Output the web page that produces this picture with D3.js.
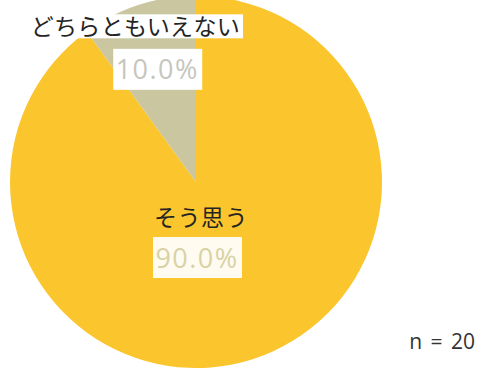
<!DOCTYPE html>
<html>
<head>
<meta charset="utf-8">
<script src="https://cdn.jsdelivr.net/npm/d3@7/dist/d3.min.js"></script>
<style>
  html, body { margin: 0; padding: 0; background: #ffffff; }
  svg { display: block; }
</style>
</head>
<body>
<svg id="chart" width="482" height="373"></svg>
<script>
// Survey answers (n = 20)
const categories = ["そう思う", "どちらともいえない"];
const shares = [90.0, 10.0];
const sampleNote = "n = 20";

const colors = ["#fbc52e", "#c9c6a0"];
const pctColors = ["#d8d2a6", "#c6c6be"];

const W = 482, H = 373;
const cx = 196, cy = 182, R = 186;

const svg = d3.select("#chart");
const g = svg.append("g").attr("transform", `translate(${cx},${cy})`);

const pie = d3.pie().sort(null).value(d => d.v);
const data = categories.map((c, i) => ({ c, v: shares[i], i }));
const arcs = pie(data);

const arc = d3.arc().innerRadius(0).outerRadius(R);

g.selectAll("path.slice")
  .data(arcs)
  .join("path")
  .attr("class", "slice")
  .attr("d", arc)
  .attr("fill", d => colors[d.data.i]);

// Label anchor points: the small slice is labelled along its centroid,
// the large one just below the pie centre.
function anchors(d) {
  if (d.data.i === 1) {
    const mid = (d.startAngle + d.endAngle) / 2;
    const a = mid - 0.055;
    const nameR = 168, pctR = 119;
    return {
      name: [Math.sin(a) * nameR, -Math.cos(a) * nameR],
      pct: [Math.sin(mid) * pctR - 2, -Math.cos(mid) * pctR]
    };
  }
  return { name: [5, 34], pct: [1, 75] };
}

const pctFmt = v => v.toFixed(1) + "%";

arcs.forEach(d => {
  const p = anchors(d);
  const lg = g.append("g");

  // category name
  const nameText = lg.append("text")
    .attr("x", p.name[0]).attr("y", p.name[1])
    .attr("text-anchor", "middle")
    .attr("dominant-baseline", "central")
    .attr("font-family", "'Noto Sans CJK JP', sans-serif")
    .attr("font-size", 23)
    .attr("letter-spacing", d.data.i === 1 ? 0.3 : 0.5)
    .attr("fill", "#242424")
    .text(d.data.c);

  if (d.data.i === 1) {
    const bb = nameText.node().getBBox();
    lg.insert("rect", "text")
      .attr("x", bb.x - 3).attr("y", bb.y + 6)
      .attr("width", bb.width + 6).attr("height", bb.height - 10)
      .attr("fill", "#ffffff");
  }

  // percentage with white box
  const pg = lg.append("g");
  const pt = pg.append("text")
    .attr("x", p.pct[0]).attr("y", p.pct[1])
    .attr("text-anchor", "middle")
    .attr("dominant-baseline", "central")
    .attr("font-family", "'Open Sans', sans-serif")
    .attr("font-size", 27)
    .attr("letter-spacing", 1.5)
    .attr("fill", pctColors[d.data.i])
    .text(pctFmt(d.data.v));
  pg.insert("rect", "text")
    .attr("x", p.pct[0] - 44).attr("y", p.pct[1] - 20)
    .attr("width", 89).attr("height", 41)
    .attr("fill", "#ffffff")
    .attr("fill-opacity", d.data.i === 1 ? 1 : 0.93);
});

svg.append("text")
  .attr("x", 475).attr("y", 349)
  .attr("text-anchor", "end")
  .attr("font-family", "'Open Sans', sans-serif")
  .attr("font-size", 21)
  .attr("word-spacing", 3)
  .attr("fill", "#333333")
  .text(sampleNote);
</script>
</body>
</html>
